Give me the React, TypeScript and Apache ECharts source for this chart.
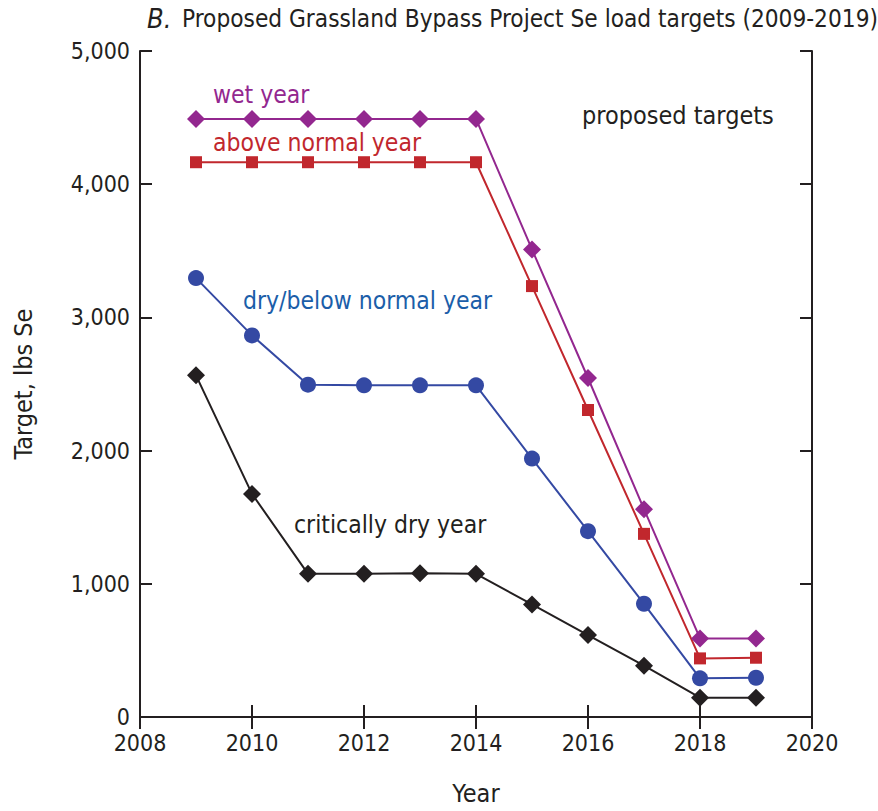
import React, { useEffect, useRef } from "react";
import * as echarts from "echarts";

const years = [2009, 2010, 2011, 2012, 2013, 2014, 2015, 2016, 2017, 2018, 2019];
const wetYear = [4490, 4490, 4490, 4490, 4490, 4490, 3510, 2545, 1560, 590, 590];
const aboveNormal = [4165, 4165, 4165, 4165, 4165, 4165, 3235, 2305, 1375, 440, 445];
const dryBelowNormal = [3295, 2865, 2495, 2490, 2490, 2490, 1940, 1395, 850, 290, 295];
const criticallyDry = [2565, 1675, 1075, 1075, 1080, 1075, 845, 615, 385, 145, 145];

const xTicks = [2008, 2010, 2012, 2014, 2016, 2018, 2020];
const yTicks = [0, 1000, 2000, 3000, 4000, 5000];

const FONT = '"Liberation Sans Narrow", "DejaVu Sans Condensed", "Roboto Condensed", Roboto, sans-serif';
const INK = "#231f20";
const PURPLE = "#93278f";
const RED = "#c1272d";
const BLUE = "#3449a3";
const BLUE_TEXT = "#1b5ea9";

function pairs(vals: number[]) {
  return years.map((y, i) => [y, vals[i]]);
}

export default function App() {
  const ref = useRef<HTMLDivElement>(null);
  useEffect(() => {
    document.body.style.margin = "0";
    const chart = echarts.init(ref.current!, undefined, { renderer: "svg" });
    const axisLine = { show: true, lineStyle: { color: INK, width: 2 } };
    const tickStyle = { show: true, inside: true, length: 12, lineStyle: { color: INK, width: 2 } };
    const mkSeries = (name: string, vals: number[], color: string, symbol: string, size: number) => ({
      name,
      type: "line",
      data: pairs(vals),
      symbol,
      symbolSize: size,
      lineStyle: { color, width: 2 },
      itemStyle: { color },
      z: 3,
    });
    chart.setOption({
      animation: false,
      grid: { left: 140, right: 66, top: 51, bottom: 89, containLabel: false },
      xAxis: [
        {
          type: "value",
          min: xTicks[0],
          max: xTicks[xTicks.length - 1],
          interval: 2,
          position: "bottom",
          axisLine,
          axisTick: tickStyle,
          splitLine: { show: false },
          axisLabel: { color: INK, fontFamily: FONT, fontSize: 23, margin: 14, formatter: (v: number) => String(v) },
          name: "Year",
          nameLocation: "middle",
          nameGap: 64,
          nameTextStyle: { color: INK, fontFamily: FONT, fontSize: 25 },
        },
        {
          type: "value",
          min: xTicks[0],
          max: xTicks[xTicks.length - 1],
          interval: 2,
          position: "top",
          axisLine,
          axisTick: tickStyle,
          axisLabel: { show: false },
          splitLine: { show: false },
        },
      ],
      yAxis: [
        {
          type: "value",
          min: yTicks[0],
          max: yTicks[yTicks.length - 1],
          interval: 1000,
          position: "left",
          axisLine,
          axisTick: tickStyle,
          splitLine: { show: false },
          axisLabel: {
            color: INK,
            fontFamily: FONT,
            fontSize: 23,
            margin: 10,
            formatter: (v: number) => v.toLocaleString("en-US"),
          },
          name: "Target, lbs Se",
          nameLocation: "middle",
          nameGap: 104,
          nameTextStyle: { color: INK, fontFamily: FONT, fontSize: 25 },
        },
        {
          type: "value",
          min: yTicks[0],
          max: yTicks[yTicks.length - 1],
          interval: 1000,
          position: "right",
          axisLine,
          axisTick: tickStyle,
          axisLabel: { show: false },
          splitLine: { show: false },
        },
      ],
      series: [
        mkSeries("critically dry year", criticallyDry, INK, "diamond", 18),
        mkSeries("dry/below normal year", dryBelowNormal, BLUE, "circle", 16),
        mkSeries("above normal year", aboveNormal, RED, "rect", 12),
        mkSeries("wet year", wetYear, PURPLE, "diamond", 18),
      ],
      graphic: [
        { type: "text", x: 147, y: 5, style: { text: "B.", fill: INK, font: `italic 27px ${FONT}` } },
        {
          type: "text",
          x: 182,
          y: 7,
          style: { text: "Proposed Grassland Bypass Project Se load targets (2009-2019)", fill: INK, font: `24.2px ${FONT}` },
        },
        { type: "text", x: 213, y: 82, style: { text: "wet year", fill: PURPLE, font: `24.5px ${FONT}` } },
        { type: "text", x: 213, y: 130, style: { text: "above normal year", fill: RED, font: `24.5px ${FONT}` } },
        { type: "text", x: 243, y: 288, style: { text: "dry/below normal year", fill: BLUE_TEXT, font: `24.5px ${FONT}` } },
        { type: "text", x: 294, y: 512, style: { text: "critically dry year", fill: INK, font: `24.5px ${FONT}` } },
        { type: "text", x: 582, y: 103, style: { text: "proposed targets", fill: INK, font: `25px ${FONT}` } },
      ],
    });
    return () => chart.dispose();
  }, []);
  return <div ref={ref} style={{ width: 878, height: 811 }} />;
}
